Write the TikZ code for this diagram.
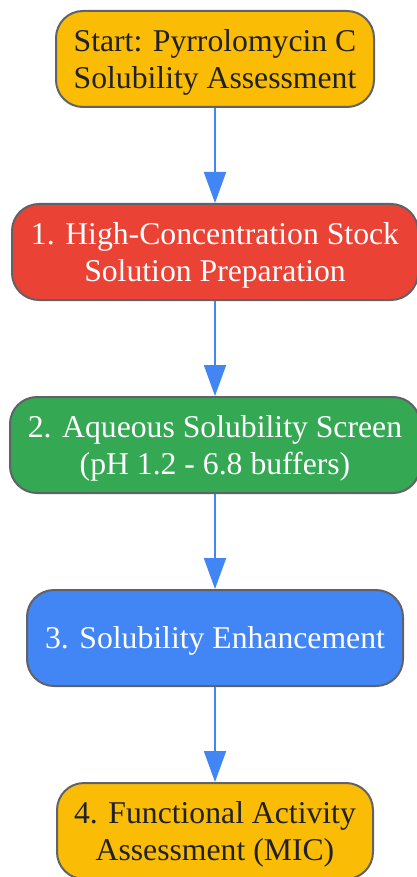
\documentclass[tikz,border=0pt]{standalone}
\usepackage{fontspec}
\setmainfont{Liberation Serif}
\usetikzlibrary{positioning,arrows.meta}

\definecolor{stepyellow}{HTML}{FBBC05}
\definecolor{stepred}{HTML}{EA4335}
\definecolor{stepgreen}{HTML}{34A853}
\definecolor{stepblue}{HTML}{4285F4}
\definecolor{stepborder}{HTML}{5F6368}
\definecolor{darktext}{HTML}{202124}

\newcommand{\stagestrut}{\rule[-0.216em]{0pt}{1.107em}}

\begin{document}
\begin{tikzpicture}[x=1pt,y=1pt,
    stagebox/.style={draw=stepborder, line width=2pt, rounded corners=27pt,
      minimum height=96pt, inner sep=0pt, align=center,
      font=\fontsize{31.7}{37}\selectfont},
    flow/.style={draw=stepblue, line width=2pt,
      -{Triangle[length=31pt,width=22pt]}}]

    \useasboundingbox (0,0) rectangle (417,-877);

    \node[stagebox, fill=stepyellow, text=darktext, minimum width=318pt] (start) at (215,-59)
      {\stagestrut Start: Pyrrolomycin C\\Solubility Assessment\stagestrut};

    \node[stagebox, fill=stepred, text=white, minimum width=406pt, below=95pt of start] (stock)
      {\stagestrut 1. High-Concentration Stock\\Solution Preparation\stagestrut};

    \node[stagebox, fill=stepgreen, text=white, minimum width=410pt, below=95pt of stock] (screen)
      {\stagestrut 2. Aqueous Solubility Screen\\(pH 1.2 - 6.8 buffers)\stagestrut};

    \node[stagebox, fill=stepblue, text=white, minimum width=376pt, below=95pt of screen] (enhance)
      {\stagestrut 3. Solubility Enhancement\stagestrut};

    \node[stagebox, fill=stepyellow, text=darktext, minimum width=316pt, below=95pt of enhance] (mic)
      {\stagestrut 4. Functional Activity\\Assessment (MIC)\stagestrut};

    \draw[flow] (start) -- (stock);
    \draw[flow] (stock) -- (screen);
    \draw[flow] (screen) -- (enhance);
    \draw[flow] (enhance) -- (mic);

\end{tikzpicture}
\end{document}
